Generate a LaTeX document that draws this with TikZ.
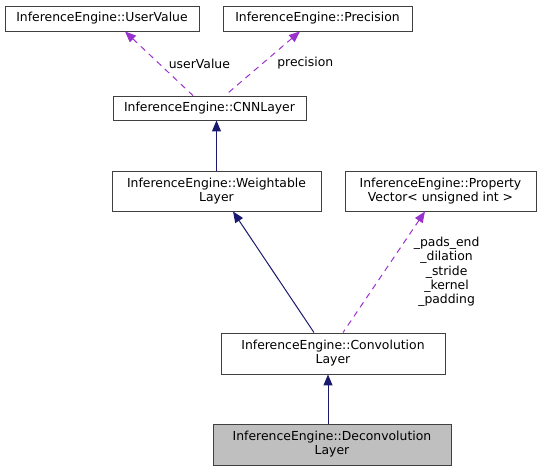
\documentclass[tikz,border=0pt]{standalone}
\usepackage{fontspec}
\setmainfont{DejaVu Sans}
\usetikzlibrary{positioning, arrows.meta}
\definecolor{inherit}{HTML}{191970}
\definecolor{member}{HTML}{9A32CD}
\tikzset{
    cls/.style={draw=black!75, line width=0.9pt, fill=white, align=center, inner sep=0pt, font=\fontsize{12.4}{14}\selectfont}, % class boxes
    base/.style={<-, >={Triangle[length=11pt, width=9pt]}, draw=inherit, line width=1pt}, % inheritance
    uses/.style={<-, >={Triangle[length=11pt, width=9pt]}, draw=member, dash pattern=on 6pt off 5pt, line width=1pt}, % usage
    lbl/.style={font=\fontsize{12.4}{14.3}\selectfont, align=center, text=black}
}

\begin{document}
\begin{tikzpicture}[x=1pt, y=-1pt]
        \useasboundingbox (0,0) rectangle (541,471);

        % Top row
        \node[cls, minimum width=194pt, minimum height=25pt] (uv) at (102,18.5) {InferenceEngine::UserValue};
        \node[cls, minimum width=189pt, minimum height=25pt] (prec) at (317.5,18.5) {InferenceEngine::Precision};
        \node[cls, minimum width=193pt, minimum height=24pt] (cnn) at (209.5,108) {InferenceEngine::CNNLayer};

        % Middle row
        \node[cls, minimum width=209pt, minimum height=40pt] (wl) at (216.5,191) {InferenceEngine::Weightable\\Layer};
        \node[cls, minimum width=191pt, minimum height=40pt] (pv) at (440.5,191) {InferenceEngine::Property\\Vector< unsigned int >};

        % Bottom
        \node[cls, minimum width=224pt, minimum height=41pt] (conv) at (333,353.5) {InferenceEngine::Convolution\\Layer};
        \node[cls, minimum width=238pt, minimum height=41pt, fill=black!25] (deconv) at (332,444.5) {InferenceEngine::Deconvolution\\Layer};

        % Members
        \path ([xshift=23pt]uv.south) edge[uses] node[lbl, pos=0.5, anchor=west, xshift=6pt] {userValue} ([xshift=-16.5pt]cnn.north)
              ([xshift=-17.5pt]prec.south) edge[uses] node[lbl, pos=0.5, anchor=west, xshift=11pt] {precision} ([xshift=15.5pt]cnn.north)
              ([xshift=-15.5pt]pv.south) edge[uses] node[lbl, pos=0.5, anchor=west, xshift=26pt] {\_pads\_end\\\_dilation\\\_stride\\\_kernel\\\_padding} ([xshift=10pt]conv.north);

        % Inheritance
        \path (cnn.south -| wl.north) edge[base] (wl.north)
              ([xshift=16.5pt]wl.south) edge[base] ([xshift=-19pt]conv.north)
              ([xshift=-5pt]conv.south) edge[base] ([xshift=-4pt]deconv.north);
    \end{tikzpicture}
\end{document}
